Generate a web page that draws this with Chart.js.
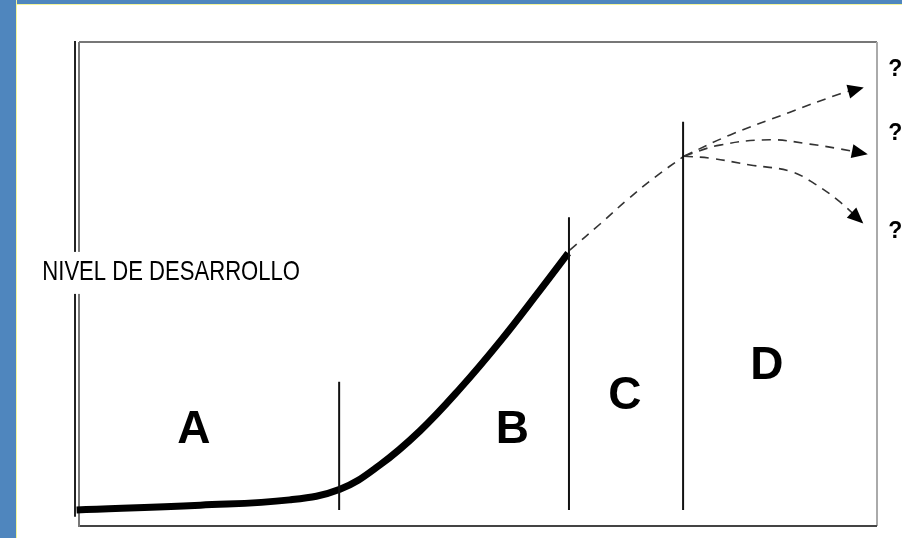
<!DOCTYPE html>
<html>
<head>
<meta charset="utf-8">
<script src="https://cdn.jsdelivr.net/npm/chart.js@4"></script>
<style>
  html, body { margin: 0; padding: 0; background: #ffffff; }
  #wrap { position: relative; width: 902px; height: 538px; overflow: hidden; }
  .edgeLeft { position: absolute; left: 0; top: 0; width: 16px; height: 538px; background: #4f86be; border-right: 1px solid #f4f49a; }
  .edgeTop { position: absolute; left: 0; top: 0; width: 902px; height: 4px; background: #4f86be; border-bottom: 1px solid #f4f49a; }
  #chart { position: absolute; left: 0; top: 0; }
</style>
</head>
<body>
<div id="wrap">
  <div class="edgeTop"></div>
  <div class="edgeLeft"></div>
  <canvas id="chart" width="902" height="538"></canvas>
</div>
<script>
// development curve (time 0..100, level 0..100)
const curveX = [-0.3, 15.2, 26.4, 32.7, 37.7, 42.7, 47.7, 52.8, 57.8, 61.3];
const curveY = [3.3, 4.3, 5.4, 7.6, 12.6, 19.6, 28.3, 38.2, 48.8, 56.4];

// projected trend up to the start of phase D
const trendX = [61.5, 65.3, 68.7, 72.2, 75.8];
const trendY = [57.0, 62.4, 67.4, 72.1, 76.4];

// three possible futures
const upX = [75.8, 81.6, 89.1, 95.4, 98.1];
const upY = [76.4, 80.8, 85.5, 89.3, 90.5];
const flatX = [75.8, 80.3, 86.6, 91.6, 95.4, 98.6];
const flatY = [76.4, 78.7, 79.8, 78.9, 77.9, 76.9];
const downX = [75.8, 79.1, 84.1, 89.1, 92.2, 95.4, 98.1];
const downY = [76.4, 76.0, 74.6, 73.3, 70.7, 66.9, 62.8];

// phases
const phases = ['A', 'B', 'C', 'D'];
const phaseLabelX = [14.4, 54.3, 68.4, 86.2];
const phaseLabelY = [19.8, 19.8, 26.7, 32.9];
const boundaryX = [32.6, 61.4, 75.7];
const boundaryTop = [29.8, 63.8, 83.5];
const boundaryBase = 3.3;

const axisTitle = 'NIVEL DE DESARROLLO';
const unknownMarks = ['?', '?', '?'];
const unknownY = [94.2, 81.0, 60.9];

const pts = (xs, ys) => xs.map((x, i) => ({ x: x, y: ys[i] }));

const datasets = [];
boundaryX.forEach((b, i) => {
    datasets.push({
        data: [{ x: b, y: boundaryBase }, { x: b, y: boundaryTop[i] }],
        borderColor: '#111', borderWidth: 2, pointRadius: 0
    });
});
datasets.push({
    data: pts(curveX, curveY),
    borderColor: '#000', borderWidth: 7, pointRadius: 0,
    tension: 0.4, borderJoinStyle: 'round'
});
const dashed = { borderColor: '#333', borderWidth: 1.6, borderDash: [9, 7], pointRadius: 0, tension: 0.4 };
datasets.push({ ...dashed, data: pts(trendX, trendY) });
datasets.push({ ...dashed, data: pts(upX, upY), arrow: true });
datasets.push({ ...dashed, data: pts(flatX, flatY), arrow: true });
datasets.push({ ...dashed, data: pts(downX, downY), arrow: true });
datasets.forEach(d => { d.clip = false; });

const framePlugin = {
    id: 'frame',
    beforeDatasetsDraw(chart) {
        const ctx = chart.ctx;
        const x = chart.scales.x, y = chart.scales.y;
        const l = x.getPixelForValue(0), r = x.getPixelForValue(100);
        const t = y.getPixelForValue(100), b = y.getPixelForValue(0);
        ctx.save();
        ctx.lineWidth = 2;
        const seg = (c, x1, y1, x2, y2) => {
            ctx.strokeStyle = c;
            ctx.beginPath(); ctx.moveTo(x1, y1); ctx.lineTo(x2, y2); ctx.stroke();
        };
        seg('#777', l, t, r, t);
        seg('#aaa', r, t, r, b);
        seg('#444', l, b, r, b);
        seg('#777', l, t, l, b + 1);
        seg('#222', x.getPixelForValue(-0.5), t - 1, x.getPixelForValue(-0.5), y.getPixelForValue(1.9));
        ctx.restore();
    }
};

const labelPlugin = {
    id: 'labels',
    afterDatasetsDraw(chart) {
        const ctx = chart.ctx;
        const x = chart.scales.x, y = chart.scales.y;
        ctx.save();
        ctx.fillStyle = '#000';

        // arrowheads at the end of each possible future
        chart.data.datasets.forEach((ds, i) => {
            if (!ds.arrow) return;
            const el = chart.getDatasetMeta(i).data;
            const p = el[el.length - 1], q = el[el.length - 2];
            const a = Math.atan2(p.y - q.y, p.x - q.x);
            ctx.save();
            ctx.translate(p.x, p.y);
            ctx.rotate(a);
            ctx.beginPath();
            ctx.moveTo(2, 0);
            ctx.lineTo(-14, -7);
            ctx.lineTo(-14, 7);
            ctx.closePath();
            ctx.fill();
            ctx.restore();
        });

        ctx.textAlign = 'center';
        ctx.textBaseline = 'middle';
        ctx.font = 'bold 46px "Liberation Sans", Arial, sans-serif';
        phases.forEach((p, i) => {
            ctx.fillText(p, x.getPixelForValue(phaseLabelX[i]), y.getPixelForValue(phaseLabelY[i]));
        });

        ctx.font = 'bold 23px "Liberation Sans", Arial, sans-serif';
        unknownMarks.forEach((m, i) => {
            ctx.fillText(m, x.getPixelForValue(102.3), y.getPixelForValue(unknownY[i]));
        });

        // narrow axis title on a white band that breaks the left axis lines
        ctx.font = '28px "Liberation Sans Narrow", "Liberation Sans", Arial, sans-serif';
        ctx.textAlign = 'left';
        const w = ctx.measureText(axisTitle).width;
        const left = x.getPixelForValue(-4.6);
        const right = x.getPixelForValue(27.7);
        const mid = y.getPixelForValue(52.5);
        ctx.fillStyle = '#fff';
        ctx.fillRect(left - 4, mid - 20, right - left + 8, 42);
        ctx.fillStyle = '#000';
        ctx.translate(left, mid);
        ctx.scale((right - left) / w, 1);
        ctx.fillText(axisTitle, 0, 0);
        ctx.restore();
    }
};

new Chart(document.getElementById('chart'), {
    type: 'line',
    data: { datasets: datasets },
    options: {
        responsive: false,
        animation: false,
        layout: { padding: { left: 79, right: 25, top: 42, bottom: 12 } },
        scales: {
            x: { type: 'linear', min: 0, max: 100, display: false },
            y: { type: 'linear', min: 0, max: 100, display: false }
        },
        plugins: { legend: { display: false }, tooltip: { enabled: false } }
    },
    plugins: [framePlugin, labelPlugin]
});
</script>
</body>
</html>
